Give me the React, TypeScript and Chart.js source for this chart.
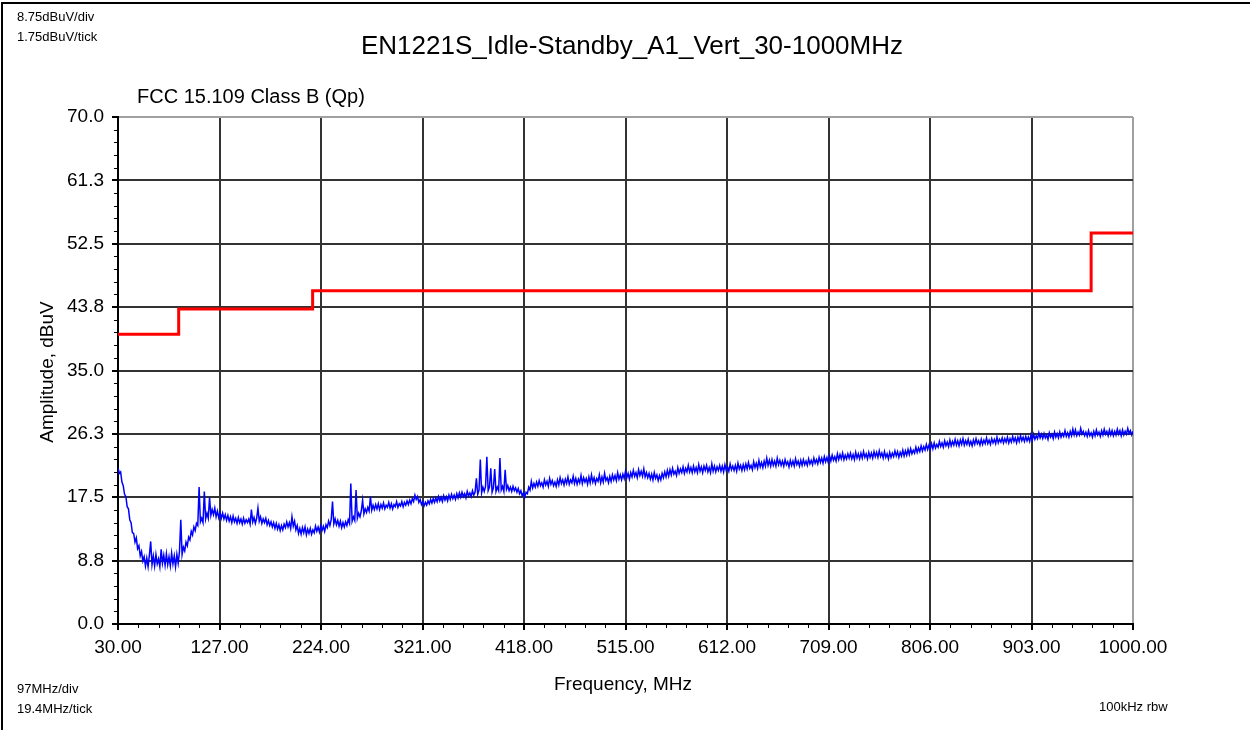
import React, { useEffect, useRef } from "react";
import { Chart, registerables } from "chart.js";

Chart.register(...registerables);

// ---- Data ----
const FREQ_START = 30; // MHz
const FREQ_STEP = 1.25; // MHz between trace samples

// Measured trace, dBuV (30 → 1000 MHz, 1.25 MHz spacing)
const TRACE_DBUV = [
  // 30 - 53.75
  21.6, 20.8, 21.0, 19.6, 19.1, 17.9, 17.6, 16.2, 15.9, 14.4,
  14.0, 12.6, 12.5, 11.3, 11.9, 10.4, 10.8, 9.4, 10.0, 8.7,
  // 55 - 78.75
  9.3, 8.0, 9.1, 7.9, 9.5, 11.4, 8.2, 9.4, 8.0, 9.6,
  8.3, 9.0, 7.9, 10.3, 8.4, 9.5, 8.1, 9.7, 8.2, 9.3,
  // 80 - 103.75
  8.0, 9.8, 8.3, 9.4, 7.9, 9.6, 8.4, 10.0, 14.4, 9.6,
  10.6, 10.1, 11.3, 10.8, 12.0, 11.6, 12.8, 12.3, 13.4, 12.9,
  // 105 - 128.75
  13.9, 13.6, 18.9, 14.1, 14.6, 14.0, 18.3, 14.5, 15.3, 14.6,
  17.5, 15.0, 15.8, 15.1, 16.0, 14.8, 15.6, 14.7, 15.4, 14.6,
  // 130 - 153.75
  15.3, 14.5, 15.1, 14.3, 15.0, 14.2, 14.8, 14.0, 14.9, 14.1,
  14.6, 13.9, 14.7, 14.0, 14.5, 13.8, 14.6, 13.9, 14.4, 14.0,
  // 155 - 178.75
  14.5, 13.8, 15.8, 14.1, 14.7, 13.9, 14.6, 16.0, 14.2, 14.8,
  13.9, 14.5, 14.0, 14.6, 13.7, 14.3, 13.6, 14.1, 13.4, 14.0,
  // 180 - 203.75
  13.2, 13.9, 13.1, 13.7, 12.9, 13.6, 13.0, 13.8, 13.3, 14.1,
  13.4, 14.0, 13.2, 14.8, 13.5, 14.2, 13.0, 13.6, 12.5, 13.2,
  // 205 - 228.75
  12.4, 13.3, 12.6, 13.4, 12.3, 13.1, 12.5, 13.2, 12.4, 13.0,
  12.6, 13.5, 12.8, 13.4, 12.7, 13.6, 12.9, 13.5, 12.8, 13.7,
  // 230 - 253.75
  13.3, 14.2, 13.6, 14.4, 16.9, 13.8, 14.5, 13.7, 14.3, 13.5,
  14.2, 13.3, 14.0, 13.4, 14.1, 13.6, 14.4, 13.9, 19.4, 14.2,
  // 255 - 278.75
  14.8, 14.3, 18.5, 14.6, 15.3, 14.8, 15.6, 17.1, 15.2, 15.9,
  15.4, 16.1, 15.6, 17.6, 15.7, 16.4, 15.8, 16.5, 15.9, 16.6,
  // 280 - 303.75
  15.8, 16.5, 16.0, 16.7, 15.9, 16.4, 16.1, 16.8, 16.0, 16.6,
  15.9, 16.5, 16.2, 16.9, 16.1, 16.6, 16.3, 16.9, 16.2, 16.8,
  // 305 - 328.75
  16.4, 17.0, 16.5, 17.1, 16.6, 17.3, 16.9, 17.8, 17.2, 17.6,
  16.8, 17.2, 16.5, 16.9, 16.3, 16.8, 16.4, 17.0, 16.6, 17.2,
  // 330 - 353.75
  16.7, 17.3, 16.8, 17.4, 16.9, 17.6, 17.0, 17.5, 16.9, 17.7,
  17.1, 17.6, 17.0, 17.8, 17.2, 17.9, 17.3, 17.8, 17.2, 18.0,
  // 355 - 378.75
  17.4, 18.1, 17.5, 18.2, 17.6, 18.0, 17.4, 18.3, 17.7, 18.1,
  17.6, 18.4, 17.8, 18.2, 20.1, 17.9, 18.5, 22.7, 18.1, 18.9,
  // 380 - 403.75
  18.3, 19.0, 23.1, 18.4, 18.9, 21.5, 18.2, 18.8, 21.4, 18.3,
  18.9, 18.4, 22.9, 18.5, 19.0, 18.3, 21.3, 18.6, 19.1, 18.4,
  // 405 - 428.75
  18.9, 18.3, 19.0, 18.4, 18.8, 18.2, 18.7, 18.0, 18.4, 17.7,
  18.1, 17.5, 18.2, 18.0, 18.9, 18.5, 19.7, 18.8, 19.4, 18.9,
  // 430 - 453.75
  19.6, 19.0, 19.8, 19.1, 19.5, 18.9, 19.9, 19.2, 19.7, 19.0,
  20.1, 19.3, 19.8, 19.1, 19.6, 19.0, 19.9, 19.2, 20.2, 19.4,
  // 455 - 478.75
  19.9, 19.2, 20.0, 19.4, 20.3, 19.3, 19.9, 19.5, 20.4, 19.4,
  20.1, 19.3, 20.0, 19.5, 20.5, 19.4, 20.2, 19.6, 20.1, 19.3,
  // 480 - 503.75
  20.3, 19.5, 20.6, 19.6, 20.2, 19.4, 20.1, 19.7, 20.6, 19.5,
  20.3, 19.6, 20.8, 19.8, 20.2, 19.5, 20.4, 19.7, 20.6, 19.9,
  // 505 - 528.75
  20.5, 19.8, 20.9, 20.0, 20.6, 19.9, 20.7, 20.1, 21.1, 20.2,
  20.8, 20.0, 20.9, 20.3, 21.2, 20.4, 20.9, 20.2, 21.3, 20.5,
  // 530 - 553.75
  21.1, 20.4, 21.4, 20.3, 20.9, 20.2, 20.8, 20.0, 20.7, 19.9,
  20.9, 20.1, 20.6, 19.8, 20.5, 19.9, 20.8, 20.2, 21.0, 20.3,
  // 555 - 578.75
  21.2, 20.4, 21.3, 20.6, 21.5, 20.7, 21.1, 20.5, 21.6, 20.8,
  21.4, 20.9, 21.7, 20.8, 21.5, 21.0, 21.9, 21.0, 21.6, 20.9,
  // 580 - 603.75
  21.8, 21.0, 21.6, 20.9, 22.0, 21.1, 21.7, 20.9, 21.8, 21.2,
  21.9, 21.0, 21.6, 20.9, 22.1, 21.1, 21.8, 21.0, 21.7, 21.2,
  // 605 - 628.75
  21.9, 21.1, 21.8, 21.0, 22.0, 21.2, 21.7, 21.1, 22.1, 21.3,
  21.8, 21.2, 21.9, 21.1, 22.2, 21.4, 21.9, 21.2, 22.0, 21.3,
  // 630 - 653.75
  22.1, 21.4, 22.3, 21.5, 21.9, 21.3, 22.4, 21.6, 22.2, 21.5,
  22.6, 21.7, 22.3, 21.6, 22.5, 21.8, 22.9, 21.9, 22.6, 21.8,
  // 655 - 678.75
  22.7, 21.9, 22.5, 21.8, 22.9, 22.0, 22.6, 21.9, 22.5, 21.8,
  22.7, 22.0, 22.4, 21.7, 22.6, 21.9, 22.5, 21.8, 22.8, 22.0,
  // 680 - 703.75
  22.5, 21.8, 22.6, 21.9, 22.7, 22.0, 22.5, 21.9, 22.8, 22.1,
  22.6, 22.0, 22.9, 22.2, 22.7, 22.1, 23.0, 22.3, 22.9, 22.2,
  // 705 - 728.75
  23.1, 22.4, 23.0, 22.3, 23.2, 22.5, 23.3, 22.6, 23.1, 22.5,
  23.5, 22.7, 23.4, 22.8, 23.6, 22.7, 23.3, 22.8, 23.5, 22.9,
  // 730 - 753.75
  23.6, 22.8, 23.4, 22.7, 23.7, 22.9, 23.5, 22.8, 23.6, 22.9,
  23.8, 23.0, 23.5, 22.8, 23.7, 23.0, 23.6, 22.9, 23.8, 23.1,
  // 755 - 778.75
  23.7, 23.0, 23.9, 23.1, 23.6, 22.9, 23.8, 23.0, 23.5, 22.8,
  23.7, 23.0, 23.6, 23.1, 23.9, 23.2, 23.8, 23.0, 23.7, 23.2,
  // 780 - 803.75
  24.0, 23.2, 23.9, 23.3, 24.1, 23.4, 24.2, 23.5, 24.0, 23.6,
  24.4, 23.7, 24.3, 23.8, 24.6, 23.9, 24.5, 24.0, 24.8, 24.1,
  // 805 - 828.75
  24.7, 24.1, 24.9, 24.2, 25.0, 24.3, 24.8, 24.4, 25.2, 24.5,
  25.0, 24.4, 25.3, 24.6, 25.1, 24.5, 25.4, 24.6, 25.2, 24.7,
  // 830 - 853.75
  25.5, 24.7, 25.3, 24.6, 25.4, 24.8, 25.6, 24.7, 25.3, 24.8,
  25.5, 24.7, 25.2, 24.6, 25.4, 24.8, 25.6, 24.9, 25.3, 24.7,
  // 855 - 878.75
  25.5, 24.8, 25.4, 24.9, 25.7, 24.9, 25.4, 24.8, 25.6, 25.0,
  25.5, 24.9, 25.8, 25.0, 25.5, 25.1, 25.7, 25.0, 25.6, 25.1,
  // 880 - 903.75
  25.8, 25.0, 25.6, 25.1, 25.9, 25.2, 25.7, 25.0, 25.8, 25.2,
  26.0, 25.3, 25.8, 25.2, 25.9, 25.3, 25.8, 25.2, 26.1, 25.4,
  // 905 - 928.75
  26.2, 25.5, 26.0, 25.6, 26.4, 25.7, 26.2, 25.6, 26.3, 25.7,
  26.1, 25.5, 26.4, 25.8, 26.2, 25.6, 26.5, 25.8, 26.3, 25.7,
  // 930 - 953.75
  26.5, 25.8, 26.3, 25.9, 26.7, 25.9, 26.4, 25.8, 26.6, 26.0,
  26.9, 26.1, 26.8, 26.0, 26.5, 26.1, 27.0, 26.2, 26.6, 26.0,
  // 955 - 978.75
  26.5, 25.9, 26.7, 26.0, 26.4, 25.8, 26.6, 26.0, 26.8, 26.1,
  26.5, 25.9, 26.7, 26.1, 26.9, 26.2, 26.6, 26.0, 26.8, 26.1,
  // 980 - 1000
  26.7, 26.0, 26.6, 26.1, 26.9, 26.2, 26.7, 26.0, 26.8, 26.1,
  26.6, 26.2, 27.0, 26.3, 26.7, 26.1, 26.6,
];

// FCC 15.109 Class B (Qp) limit: band edges and level per band
const LIMIT_EDGES = [30, 88, 216, 960, 1000];
const LIMIT_DBUV = [40, 43.5, 46, 54];

// Axis ticks
const X_TICKS = [30, 127, 224, 321, 418, 515, 612, 709, 806, 903, 1000];
const Y_TICKS = [0, 8.75, 17.5, 26.25, 35, 43.75, 52.5, 61.25, 70];
const X_MINOR_STEP = 19.4;
const Y_MINOR_STEP = 1.75;

// Texts
const TITLE = "EN1221S_Idle-Standby_A1_Vert_30-1000MHz";
const LIMIT_LABEL = "FCC 15.109 Class B (Qp)";
const Y_TITLE = "Amplitude, dBuV";
const X_TITLE = "Frequency, MHz";
const NOTE_Y_DIV = "8.75dBuV/div";
const NOTE_Y_TICK = "1.75dBuV/tick";
const NOTE_X_DIV = "97MHz/div";
const NOTE_X_TICK = "19.4MHz/tick";
const NOTE_RBW = "100kHz rbw";

const FONT = "'Liberation Sans', Arial, sans-serif";

const W = 1250;
const H = 730;

const decorPlugin = {
  id: "decor",
  afterDraw(chart: any) {
    const ctx: CanvasRenderingContext2D = chart.ctx;
    const area = chart.chartArea;
    const xs = chart.scales.x;
    const ys = chart.scales.y;
    ctx.save();

    // minor ticks
    ctx.strokeStyle = "#000";
    ctx.lineWidth = 1;
    ctx.beginPath();
    for (let k = 0; k * X_MINOR_STEP <= 970 + 0.001; k++) {
      if (k % 5 === 0) continue;
      const px = Math.round(xs.getPixelForValue(30 + k * X_MINOR_STEP)) + 0.5;
      ctx.moveTo(px, area.bottom);
      ctx.lineTo(px, area.bottom + 4);
    }
    for (let k = 0; k * Y_MINOR_STEP <= 70 + 0.001; k++) {
      if (k % 5 === 0) continue;
      const py = Math.round(ys.getPixelForValue(k * Y_MINOR_STEP)) + 0.5;
      ctx.moveTo(area.left - 4, py);
      ctx.lineTo(area.left, py);
    }
    ctx.stroke();

    // outer frame (left and top)
    ctx.fillStyle = "#000";
    ctx.fillRect(1, 2, 2, H - 2);
    ctx.fillRect(1, 2, W - 1, 2);

    // texts
    ctx.fillStyle = "#000";
    ctx.textBaseline = "middle";

    ctx.font = `26px ${FONT}`;
    ctx.textAlign = "center";
    ctx.fillText(TITLE, 632, 47);

    ctx.font = `20px ${FONT}`;
    ctx.textAlign = "left";
    ctx.fillText(LIMIT_LABEL, 137, 97);

    ctx.font = `19px ${FONT}`;
    ctx.textAlign = "center";
    ctx.fillText(X_TITLE, 623, 685);
    ctx.save();
    ctx.translate(48, 372);
    ctx.rotate(-Math.PI / 2);
    ctx.fillText(Y_TITLE, 0, 0);
    ctx.restore();

    ctx.font = `13px ${FONT}`;
    ctx.textAlign = "left";
    ctx.fillText(NOTE_Y_DIV, 17, 17);
    ctx.fillText(NOTE_Y_TICK, 17, 37);
    ctx.fillText(NOTE_X_DIV, 17, 689);
    ctx.fillText(NOTE_X_TICK, 17, 709);
    ctx.fillText(NOTE_RBW, 1099, 707);

    ctx.restore();
  },
};

export default function App() {
  const canvasRef = useRef<HTMLCanvasElement | null>(null);

  useEffect(() => {
    const canvas = canvasRef.current;
    if (!canvas) return;

    const traceData = TRACE_DBUV.map((v, i) => ({ x: FREQ_START + i * FREQ_STEP, y: v }));
    const limitData: { x: number; y: number }[] = [];
    LIMIT_DBUV.forEach((lvl, i) => {
      limitData.push({ x: LIMIT_EDGES[i], y: lvl });
      limitData.push({ x: LIMIT_EDGES[i + 1], y: lvl });
    });

    const chart = new Chart(canvas, {
      type: "line",
      data: {
        datasets: [
          {
            label: "Trace",
            data: traceData,
            borderColor: "#0000ff",
            borderWidth: 1.5,
            pointRadius: 0,
            tension: 0,
            fill: false,
          },
          {
            label: LIMIT_LABEL,
            data: limitData,
            borderColor: "#ff0000",
            borderWidth: 3,
            pointRadius: 0,
            tension: 0,
            fill: false,
          },
        ],
      },
      options: {
        responsive: false,
        animation: false,
        devicePixelRatio: 1,
        layout: { padding: { left: 0, right: 117, top: 117, bottom: 0 } },
        plugins: {
          legend: { display: false },
          title: { display: false },
          tooltip: { enabled: false },
        },
        scales: {
          x: {
            type: "linear",
            min: 30,
            max: 1000,
            afterBuildTicks: (s: any) => {
              s.ticks = X_TICKS.map((v) => ({ value: v }));
            },
            afterFit: (s: any) => {
              s.height = H - 624;
            },
            ticks: {
              autoSkip: false,
              maxRotation: 0,
              padding: 6,
              color: "#000",
              font: { family: FONT, size: 19 },
              callback: (v: any) => Number(v).toFixed(2),
            },
            grid: {
              color: (c: any) => (c.tick && c.tick.value === 1000 ? "#a0a0a0" : "#333333"),
              lineWidth: 2,
              tickLength: 6,
              tickColor: "#000",
            },
            border: { display: true, color: "#000", width: 2 },
          },
          y: {
            type: "linear",
            min: 0,
            max: 70,
            afterBuildTicks: (s: any) => {
              s.ticks = Y_TICKS.map((v) => ({ value: v }));
            },
            afterFit: (s: any) => {
              s.width = 118;
            },
            ticks: {
              autoSkip: false,
              padding: 8,
              color: "#000",
              font: { family: FONT, size: 19 },
              callback: (v: any) => Number(v).toFixed(1),
            },
            grid: {
              color: (c: any) => (c.tick && c.tick.value === 70 ? "#a0a0a0" : "#333333"),
              lineWidth: 2,
              tickLength: 6,
              tickColor: "#000",
            },
            border: { display: true, color: "#000", width: 2 },
          },
        },
      },
      plugins: [decorPlugin],
    });

    return () => {
      chart.destroy();
    };
  }, []);

  return (
    <div style={{ position: "absolute", left: 0, top: 0, width: W, height: H, background: "#fff" }}>
      <canvas ref={canvasRef} width={W} height={H} style={{ width: W, height: H, display: "block" }} />
    </div>
  );
}
